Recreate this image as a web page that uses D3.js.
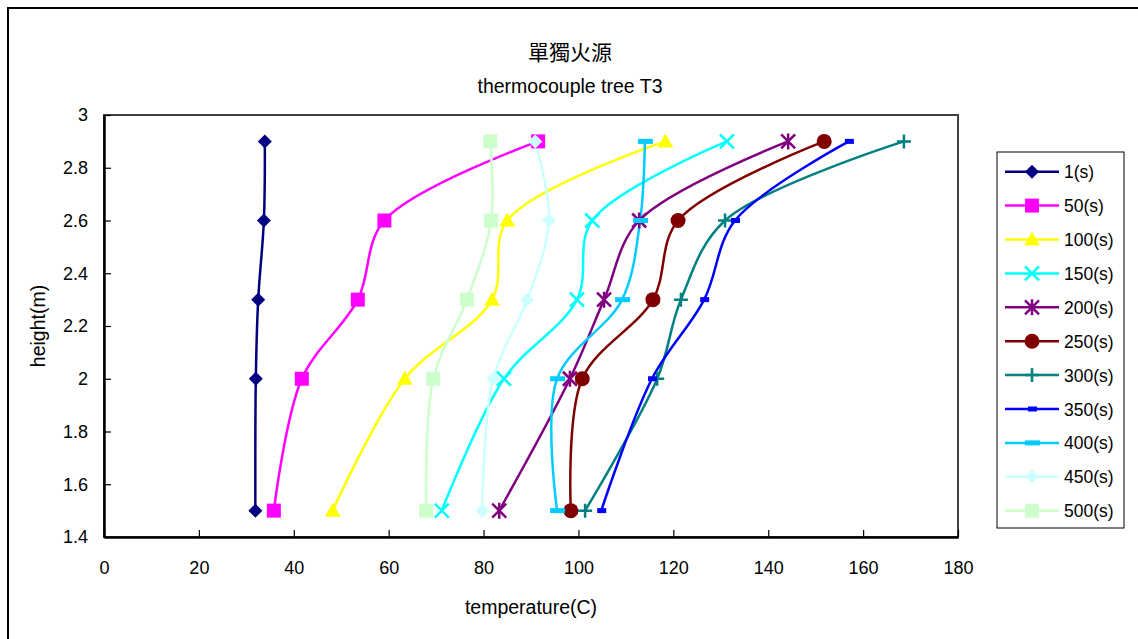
<!DOCTYPE html>
<html>
<head>
<meta charset="utf-8">
<script src="https://cdn.jsdelivr.net/npm/d3@7"></script>
<style>
  body { margin: 0; background: #fff; }
  text { font-family: "Liberation Sans", Arial, sans-serif; fill: #000; }
</style>
</head>
<body>
<svg width="1138" height="639"></svg>
<script>
const svg = d3.select("svg");

// data
const heights = [1.5, 2.0, 2.3, 2.6, 2.9];
const seriesNames = ["1(s)", "50(s)", "100(s)", "150(s)", "200(s)", "250(s)", "300(s)", "350(s)", "400(s)", "450(s)", "500(s)"];
const t1 = [31.9, 32.0, 32.5, 33.7, 33.9];
const t50 = [35.8, 41.7, 53.5, 59.1, 91.5];
const t100 = [48.2, 63.4, 81.8, 85.0, 118.3];
const t150 = [71.2, 84.3, 99.7, 102.9, 131.3];
const t200 = [83.3, 98.2, 105.4, 112.8, 144.2];
const t250 = [98.4, 100.8, 115.7, 121.0, 151.8];
const t300 = [101.4, 116.6, 121.6, 130.9, 168.6];
const t350 = [104.8, 115.5, 126.5, 133.0, 157.0];
const t400 = [95.5, 95.5, 109.2, 113.0, 114.0];
const t450 = [79.7, 82.0, 89.2, 93.8, 90.9];
const t500 = [67.9, 69.4, 76.5, 81.6, 81.4];
const seriesTemps = [t1, t50, t100, t150, t200, t250, t300, t350, t400, t450, t500];
const colors = ["#000080", "#FF00FF", "#FFFF00", "#00FFFF", "#800080", "#800000", "#008080", "#0000FF", "#00CCFF", "#CCFFFF", "#CCFFCC"];
const markers = ["diamond", "square", "triangle", "x", "star", "circle", "plus", "dash", "longdash", "diamond", "square"];
const xTicks = [0, 20, 40, 60, 80, 100, 120, 140, 160, 180];
const yTicks = [1.4, 1.6, 1.8, 2, 2.2, 2.4, 2.6, 2.8, 3];

// outer chart border
svg.append("rect")
  .attr("x", 8).attr("y", 8)
  .attr("width", 1150).attr("height", 650)
  .attr("fill", "none").attr("stroke", "#000").attr("stroke-width", 2);

const plotL = 104, plotR = 958, plotT = 115, plotB = 537;
const x = d3.scaleLinear().domain([0, 180]).range([plotL, plotR]);
const y = d3.scaleLinear().domain([1.4, 3]).range([plotB, plotT]);

// plot frame
svg.append("rect")
  .attr("x", plotL).attr("y", plotT)
  .attr("width", plotR - plotL).attr("height", plotB - plotT)
  .attr("fill", "#fff").attr("stroke", "#404040").attr("stroke-width", 2);

const xAxis = svg.append("g")
  .attr("transform", `translate(0,${plotB})`)
  .call(d3.axisBottom(x).tickValues(xTicks).tickSizeInner(-7).tickSizeOuter(0).tickPadding(24));
const yAxis = svg.append("g")
  .attr("transform", `translate(${plotL},0)`)
  .call(d3.axisLeft(y).tickValues(yTicks).tickSizeInner(-7).tickSizeOuter(0).tickPadding(16)
    .tickFormat(d => String(+d.toFixed(1))));
[xAxis, yAxis].forEach(a => {
  a.select(".domain").attr("stroke", "#000").attr("stroke-width", 2.5);
  a.selectAll(".tick line").attr("stroke", "#000").attr("stroke-width", 1.2);
  a.selectAll(".tick text").style("font-size", "18px").attr("fill", "#000");
});

// titles
svg.append("text").attr("x", 570).attr("y", 60).attr("text-anchor", "middle")
  .style("font-size", "21px").style("font-family", "'Noto Sans CJK TC', sans-serif").text("單獨火源");
svg.append("text").attr("x", 570).attr("y", 93).attr("text-anchor", "middle")
  .style("font-size", "19.5px").text("thermocouple tree T3");
svg.append("text").attr("x", 531).attr("y", 614).attr("text-anchor", "middle")
  .style("font-size", "19.5px").text("temperature(C)");
svg.append("text").attr("transform", "translate(45,326) rotate(-90)").attr("text-anchor", "middle")
  .style("font-size", "19.5px").text("height(m)");

function drawMarker(g, type, color) {
  if (type === "diamond") {
    g.append("path").attr("d", "M0,-7L7,0L0,7L-7,0Z").attr("fill", color);
  } else if (type === "square") {
    g.append("rect").attr("x", -7).attr("y", -7).attr("width", 14).attr("height", 14).attr("fill", color);
  } else if (type === "triangle") {
    g.append("path").attr("d", "M0,-8L8,6L-8,6Z").attr("fill", color);
  } else if (type === "circle") {
    g.append("circle").attr("r", 7.5).attr("fill", color);
  } else if (type === "x") {
    g.append("path").attr("d", "M-7,-7L7,7M-7,7L7,-7").attr("stroke", color).attr("stroke-width", 2.5);
  } else if (type === "star") {
    g.append("path").attr("d", "M-7,-7L7,7M-7,7L7,-7M0,-8L0,8").attr("stroke", color).attr("stroke-width", 2.5);
  } else if (type === "plus") {
    g.append("path").attr("d", "M-7,0L7,0M0,-7L0,7").attr("stroke", color).attr("stroke-width", 2.5);
  } else if (type === "dash") {
    g.append("rect").attr("x", -4).attr("y", -2.5).attr("width", 9).attr("height", 5).attr("fill", color);
  } else if (type === "longdash") {
    g.append("rect").attr("x", -7).attr("y", -2.5).attr("width", 15).attr("height", 5).attr("fill", color);
  }
}

const line = d3.line()
  .x(d => x(d[0]))
  .y(d => y(d[1]))
  .curve(d3.curveCatmullRom.alpha(0.5));

// draw series in order
seriesTemps.forEach((temps, i) => {
  const pts = temps.map((t, j) => [t, heights[j]]);
  svg.append("path")
    .datum(pts)
    .attr("d", line)
    .attr("fill", "none")
    .attr("stroke", colors[i])
    .attr("stroke-width", 2.5);
});
seriesTemps.forEach((temps, i) => {
  temps.forEach((t, j) => {
    const g = svg.append("g").attr("transform", `translate(${x(t)},${y(heights[j])})`);
    drawMarker(g, markers[i], colors[i]);
  });
});

// legend
const legend = svg.append("g");
legend.append("rect")
  .attr("x", 997).attr("y", 152).attr("width", 127).attr("height", 376)
  .attr("fill", "#fff").attr("stroke", "#000").attr("stroke-width", 1);
const ly = d3.scaleLinear().domain([0, 10]).range([171.7, 510.7]);
seriesNames.forEach((name, i) => {
  const row = legend.append("g").attr("transform", `translate(0,${ly(i)})`);
  row.append("line").attr("x1", 1005).attr("x2", 1059).attr("y1", 0).attr("y2", 0)
    .attr("stroke", colors[i]).attr("stroke-width", 2.5);
  drawMarker(row.append("g").attr("transform", "translate(1032,0)"), markers[i], colors[i]);
  row.append("text").attr("x", 1064).attr("y", 6.5).style("font-size", "17.5px").text(name);
});
</script>
</body>
</html>
